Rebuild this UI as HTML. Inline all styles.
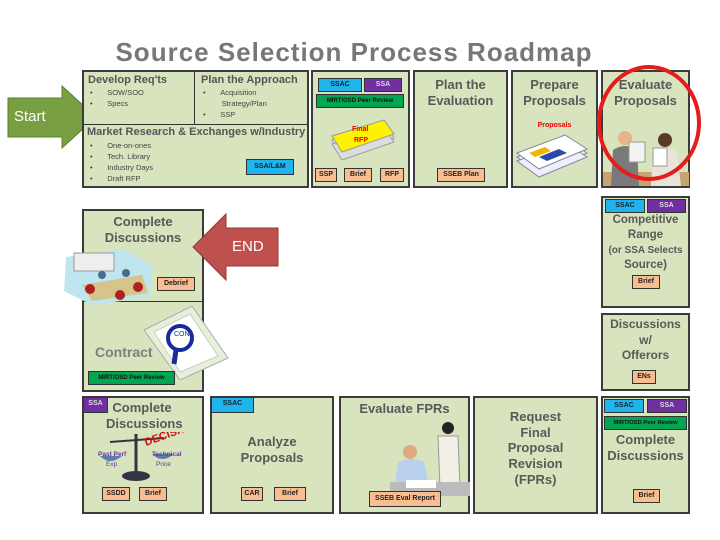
<!DOCTYPE html>
<html><head><meta charset="utf-8"><style>
*{margin:0;padding:0;box-sizing:border-box}
body{width:720px;height:540px;background:#fff;position:relative;overflow:hidden;font-family:"Liberation Sans",sans-serif}
.a{position:absolute}
.bx{position:absolute;background:#d7e4bd;border:2px solid #3b3b3b}
.t{position:absolute;color:#595959;font-weight:bold;text-align:center;line-height:16px;font-size:13px}
.tag{position:absolute;font-size:7px;font-weight:bold;text-align:center;border:1px solid #333;line-height:12px;height:14px}
.ssac{background:#1fb4ec;color:#123}
.ssa{background:#7030a0;color:#ddd}
.mirt{background:#00a651;color:#111}
.pe{background:#f9be8f;color:#222}
.li{position:absolute;font-size:7.5px;color:#444;line-height:11px}
</style></head><body>
<div class="a" style="left:0;top:37px;width:708px;text-align:center;font-size:26px;font-weight:bold;color:#777;letter-spacing:1px">Source Selection Process Roadmap</div>

<svg class="a" style="left:0;top:0" width="720" height="540">
<polygon points="8,98 62,98 62,86 96,117 62,148 62,137 8,137" fill="#78a042" stroke="#5d7f31" stroke-width="1"/>
</svg>
<div class="a" style="left:14px;top:108px;color:#fff;font-size:15px">Start</div>

<!-- top row -->
<div class="bx" style="left:82px;top:70px;width:227px;height:118px"></div>
<div class="a" style="left:194px;top:71px;width:1px;height:54px;background:#333"></div>
<div class="a" style="left:83px;top:124px;width:225px;height:1px;background:#333"></div>
<div class="a" style="left:88px;top:74px;font-size:11px;font-weight:bold;color:#555">Develop Req'ts</div>
<div class="li" style="left:90px;top:87px">•&nbsp;&nbsp;&nbsp;&nbsp;&nbsp;&nbsp;&nbsp;SOW/SOO<br>•&nbsp;&nbsp;&nbsp;&nbsp;&nbsp;&nbsp;&nbsp;Specs</div>
<div class="a" style="left:201px;top:74px;font-size:11px;font-weight:bold;color:#555">Plan the Approach</div>
<div class="li" style="left:203px;top:87px">•&nbsp;&nbsp;&nbsp;&nbsp;&nbsp;&nbsp;&nbsp;Acquisition<br>&nbsp;&nbsp;&nbsp;&nbsp;&nbsp;&nbsp;&nbsp;&nbsp;&nbsp;Strategy/Plan<br>•&nbsp;&nbsp;&nbsp;&nbsp;&nbsp;&nbsp;&nbsp;SSP</div>
<div class="a" style="left:87px;top:126px;font-size:11px;font-weight:bold;color:#555">Market Research &amp; Exchanges w/Industry</div>
<div class="li" style="left:90px;top:140px">•&nbsp;&nbsp;&nbsp;&nbsp;&nbsp;&nbsp;&nbsp;One-on-ones<br>•&nbsp;&nbsp;&nbsp;&nbsp;&nbsp;&nbsp;&nbsp;Tech. Library<br>•&nbsp;&nbsp;&nbsp;&nbsp;&nbsp;&nbsp;&nbsp;Industry Days<br>•&nbsp;&nbsp;&nbsp;&nbsp;&nbsp;&nbsp;&nbsp;Draft RFP</div>
<div class="tag ssac" style="left:246px;top:159px;width:48px;height:16px;line-height:14px">SSA/L&amp;M</div>

<div class="bx" style="left:311px;top:70px;width:99px;height:118px"></div>
<div class="tag ssac" style="left:318px;top:78px;width:44px">SSAC</div>
<div class="tag ssa" style="left:364px;top:78px;width:38px">SSA</div>
<div class="tag mirt" style="left:316px;top:94px;width:88px;font-size:6px">MIRT/OSD Peer Review</div>
<svg class="a" style="left:328px;top:118px" width="70" height="42"><g fill="#eee" stroke="#99a"><path d="M4,22 L56,6 L66,20 L14,38Z"/><path d="M4,26 L56,10 L66,24 L14,42Z" fill="#ddd"/></g><path d="M4,18 L56,2 L66,16 L14,34Z" fill="#fff200" stroke="#999"/><text x="24" y="13" font-size="7" fill="#e00" font-weight="bold" font-family="Liberation Sans">Final</text><text x="26" y="24" font-size="7" fill="#e00" font-weight="bold" font-family="Liberation Sans">RFP</text></svg>
<div class="tag pe" style="left:315px;top:168px;width:22px">SSP</div>
<div class="tag pe" style="left:344px;top:168px;width:28px">Brief</div>
<div class="tag pe" style="left:380px;top:168px;width:24px">RFP</div>

<div class="bx" style="left:413px;top:70px;width:95px;height:118px"></div>
<div class="t" style="left:413px;top:77px;width:95px">Plan the<br>Evaluation</div>
<div class="tag pe" style="left:437px;top:168px;width:48px">SSEB Plan</div>

<div class="bx" style="left:511px;top:70px;width:87px;height:118px"></div>
<div class="t" style="left:511px;top:77px;width:87px">Prepare<br>Proposals</div>
<div class="a" style="left:511px;top:122px;width:87px;text-align:center;font-size:7px;font-weight:bold;color:#e00">Proposals</div>
<svg class="a" style="left:515px;top:131px" width="75" height="48"><g stroke="#889" fill="#eef"><path d="M2,26 L50,8 L72,22 L24,42Z"/><path d="M2,30 L50,12 L72,26 L24,46Z"/></g><path d="M2,22 L50,4 L72,18 L24,38Z" fill="#fff" stroke="#889"/><path d="M14,22 L30,16 L36,20 L20,26Z" fill="#f6b400"/><path d="M24,26 L44,18 L52,22 L32,30Z" fill="#2a4aa8"/></svg>

<div class="bx" style="left:601px;top:70px;width:89px;height:118px"></div>
<div class="t" style="left:601px;top:77px;width:89px">Evaluate<br>Proposals</div>
<svg class="a" style="left:603px;top:128px" width="86" height="58"><rect x="0" y="44" width="86" height="14" fill="#c9a46e"/><circle cx="22" cy="10" r="7" fill="#e8b58a"/><path d="M8,58 L10,22 Q22,14 34,22 L36,58Z" fill="#7a7a7a"/><rect x="26" y="14" width="16" height="20" fill="#f3f3f3" stroke="#999"/><circle cx="62" cy="12" r="7" fill="#5a3a28"/><path d="M48,58 L50,24 Q62,16 74,24 L78,58Z" fill="#e8e4da"/><rect x="50" y="20" width="14" height="18" fill="#fff" stroke="#999"/></svg>

<svg class="a" style="left:0;top:0" width="720" height="540"><ellipse cx="649" cy="123" rx="50" ry="56" fill="none" stroke="#e41c1c" stroke-width="4"/></svg>

<!-- left column -->
<div class="bx" style="left:82px;top:209px;width:122px;height:183px"></div>
<div class="a" style="left:83px;top:301px;width:120px;height:1px;background:#333"></div>
<div class="t" style="left:82px;top:214px;width:122px">Complete<br>Discussions</div>
<svg class="a" style="left:62px;top:245px" width="92" height="62"><path d="M4,12 L60,4 L90,20 L88,52 L30,60 L2,46Z" fill="#bfe5ef"/><rect x="12" y="8" width="40" height="18" fill="#eee" stroke="#999"/><path d="M20,40 L80,30 L86,48 L30,56Z" fill="#d6c48a"/><g fill="#b02020"><circle cx="28" cy="44" r="5"/><circle cx="76" cy="42" r="5"/><circle cx="58" cy="50" r="5"/></g><g fill="#4a6a8a"><circle cx="40" cy="30" r="4"/><circle cx="64" cy="28" r="4"/></g></svg>
<div class="tag pe" style="left:157px;top:277px;width:38px">Debrief</div>
<svg class="a" style="left:140px;top:300px" width="92" height="80"><path d="M4,30 L52,6 L88,58 L40,80Z" fill="#e6efd7" stroke="#aab"/><path d="M14,32 L50,14 L78,56 L40,72Z" fill="#fff" stroke="#ccc"/><circle cx="40" cy="38" r="12" fill="none" stroke="#1a2a9a" stroke-width="4"/><line x1="36" y1="50" x2="34" y2="64" stroke="#1a2a9a" stroke-width="5"/><text x="34" y="36" font-size="7" fill="#1a2a9a" font-family="Liberation Sans">CON</text></svg>
<div class="a" style="left:95px;top:344px;font-size:14px;font-weight:bold;color:#7f7f7f">Contract</div>
<div class="tag mirt" style="left:88px;top:371px;width:87px;font-size:6px">MIRT/OSD Peer Review</div>

<svg class="a" style="left:0;top:0" width="720" height="540"><polygon points="278,228 226,228 226,214 193,247 226,280 226,266 278,266" fill="#c0504d" stroke="#8c3a38" stroke-width="1"/></svg>
<div class="a" style="left:232px;top:238px;color:#fff;font-size:15px">END</div>

<!-- right column -->
<div class="bx" style="left:601px;top:196px;width:89px;height:112px"></div>
<div class="tag ssac" style="left:605px;top:199px;width:40px">SSAC</div>
<div class="tag ssa" style="left:647px;top:199px;width:39px">SSA</div>
<div class="t" style="left:601px;top:213px;width:89px;font-size:11.5px;line-height:15px">Competitive<br>Range<br><span style="font-size:10px">(or SSA Selects</span><br>Source)</div>
<div class="tag pe" style="left:632px;top:275px;width:28px">Brief</div>

<div class="bx" style="left:601px;top:313px;width:89px;height:78px"></div>
<div class="t" style="left:601px;top:317px;width:89px;font-size:12px;line-height:15.5px">Discussions<br>w/<br>Offerors</div>
<div class="tag pe" style="left:632px;top:370px;width:24px">ENs</div>

<!-- bottom row -->
<div class="bx" style="left:82px;top:396px;width:122px;height:118px"></div>
<div class="tag ssa" style="left:83px;top:397px;width:25px;height:16px">SSA</div>
<div class="t" style="left:106px;top:400px;width:72px">Complete<br>Discussions</div>
<svg class="a" style="left:96px;top:432px" width="100" height="52"><line x1="40" y1="2" x2="40" y2="42" stroke="#334" stroke-width="3"/><line x1="14" y1="10" x2="68" y2="6" stroke="#334" stroke-width="2"/><path d="M4,24 Q14,34 26,24Z" fill="#5a7ea8"/><path d="M56,22 Q66,32 78,22Z" fill="#5a7ea8"/><ellipse cx="40" cy="44" rx="14" ry="5" fill="#334"/><text x="2" y="24" font-size="6.5" fill="#7030a0" font-weight="bold" font-family="Liberation Sans">Past Perf</text><text x="56" y="24" font-size="6.5" fill="#7030a0" font-weight="bold" font-family="Liberation Sans">Technical</text><text x="10" y="34" font-size="6.5" fill="#7030a0" font-family="Liberation Sans">Exp</text><text x="60" y="34" font-size="6.5" fill="#7030a0" font-family="Liberation Sans">Price</text><text x="50" y="14" font-size="11" fill="#d01010" font-weight="bold" transform="rotate(-20 50 14)" font-family="Liberation Sans">DECISION</text></svg>
<div class="tag pe" style="left:102px;top:487px;width:28px">SSDD</div>
<div class="tag pe" style="left:139px;top:487px;width:28px">Brief</div>

<div class="bx" style="left:210px;top:396px;width:124px;height:118px"></div>
<div class="tag ssac" style="left:211px;top:397px;width:43px;height:16px">SSAC</div>
<div class="t" style="left:210px;top:434px;width:124px">Analyze<br>Proposals</div>
<div class="tag pe" style="left:241px;top:487px;width:22px">CAR</div>
<div class="tag pe" style="left:274px;top:487px;width:32px">Brief</div>

<div class="bx" style="left:339px;top:396px;width:131px;height:118px"></div>
<div class="t" style="left:339px;top:401px;width:131px">Evaluate FPRs</div>
<svg class="a" style="left:390px;top:418px" width="80" height="80"><circle cx="58" cy="10" r="6" fill="#222"/><path d="M48,18 L68,18 L70,70 L50,70Z" fill="#f2efe6" stroke="#999"/><circle cx="20" cy="34" r="7" fill="#e0a880"/><path d="M4,72 L8,44 Q20,38 34,44 L40,72Z" fill="#b8d0ee"/><rect x="0" y="64" width="80" height="14" fill="#bbb"/><rect x="16" y="62" width="30" height="8" fill="#fff"/></svg>
<div class="tag pe" style="left:369px;top:491px;width:72px;height:16px;line-height:14px">SSEB Eval Report</div>

<div class="bx" style="left:473px;top:396px;width:125px;height:118px"></div>
<div class="t" style="left:473px;top:409px;width:125px;line-height:15.7px">Request<br>Final<br>Proposal<br>Revision<br>(FPRs)</div>

<div class="bx" style="left:601px;top:396px;width:89px;height:118px"></div>
<div class="tag ssac" style="left:604px;top:399px;width:40px">SSAC</div>
<div class="tag ssa" style="left:647px;top:399px;width:40px">SSA</div>
<div class="tag mirt" style="left:604px;top:416px;width:83px;font-size:5.8px">MIRT/OSD Peer Review</div>
<div class="t" style="left:601px;top:432px;width:89px">Complete<br>Discussions</div>
<div class="tag pe" style="left:633px;top:489px;width:27px">Brief</div>
</body></html>
